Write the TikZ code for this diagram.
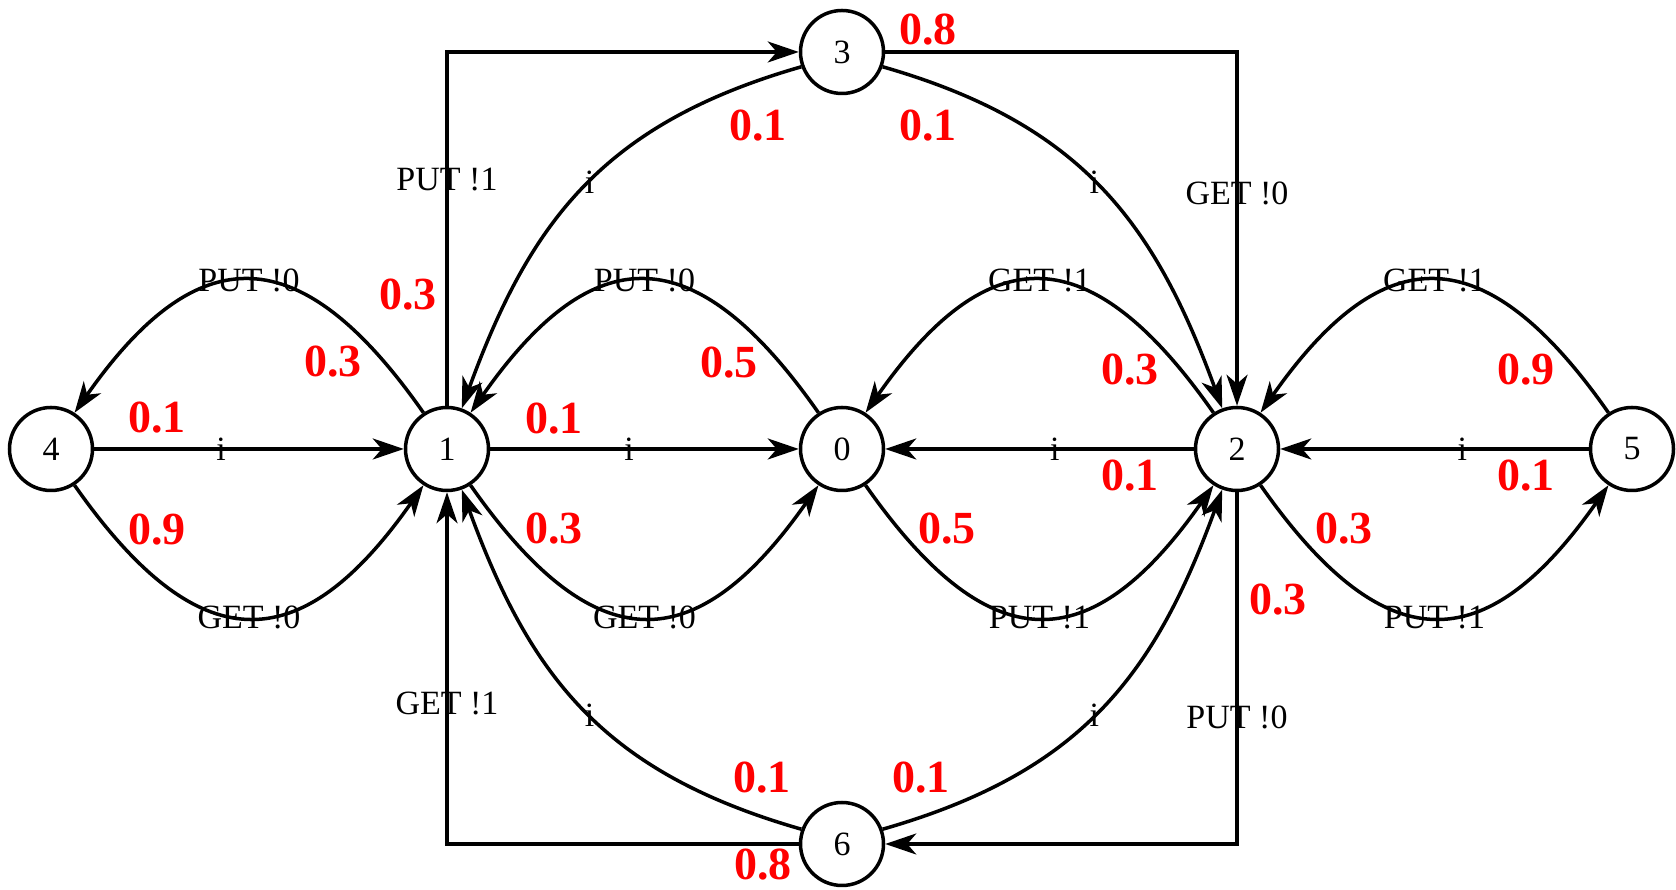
\documentclass[tikz,border=0pt]{standalone}
\usepackage{fontspec}
\setmainfont{Liberation Serif}
\usetikzlibrary{arrows.meta}
\begin{document}
\begin{tikzpicture}[x=1pt,y=1pt,
  st/.style={circle,draw,line width=3.5pt,minimum size=83pt,inner sep=0pt,font=\fontsize{34}{40}\selectfont},
  conn/.style={line width=3.5pt,-{Stealth[length=31pt,width=21pt,inset=9pt]}},
  lab/.style={font=\fontsize{34}{40}\selectfont,inner sep=0pt},
  prob/.style={font=\fontsize{46}{52}\selectfont\bfseries,text=red,inner sep=0pt}]
\useasboundingbox (0,0) rectangle (1676,890);
% states
\node[st] (n4) at (51,441) {4};
\node[st] (n1) at (447,441) {1};
\node[st] (n0) at (842,441) {0};
\node[st] (n2) at (1237,441) {2};
\node[st] (n5) at (1632,441) {5};
\node[st] (n3) at (842,838) {3};
\node[st] (n6) at (842,46) {6};
% straight edges
\draw[conn] (n4) -- (n1) node[lab,pos=0.41]{i};
\draw[conn] (n1) -- (n0) node[lab,pos=0.45]{i};
\draw[conn] (n2) -- (n0) node[lab,pos=0.45]{i};
\draw[conn] (n5) -- (n2) node[lab,pos=0.41]{i};
% lobes
\draw[conn] (n1.123) .. controls +(125:215) and +(55:215) .. (n4.57) node[lab,midway]{PUT !0};
\draw[conn] (n4.-57) .. controls +(-55:215) and +(-125:215) .. (n1.-123) node[lab,midway]{GET !0};
\draw[conn] (n0.123) .. controls +(125:215) and +(55:215) .. (n1.57) node[lab,midway]{PUT !0};
\draw[conn] (n1.-57) .. controls +(-55:215) and +(-125:215) .. (n0.-123) node[lab,midway]{GET !0};
\draw[conn] (n2.123) .. controls +(125:215) and +(55:215) .. (n0.57) node[lab,midway]{GET !1};
\draw[conn] (n0.-57) .. controls +(-55:215) and +(-125:215) .. (n2.-123) node[lab,midway]{PUT !1};
\draw[conn] (n5.123) .. controls +(125:215) and +(55:215) .. (n2.57) node[lab,midway]{GET !1};
\draw[conn] (n2.-57) .. controls +(-55:215) and +(-125:215) .. (n5.-123) node[lab,midway]{PUT !1};
% big curves
\draw[conn] (n3.200) .. controls +(196:205) and +(70:200) .. (n1.70) node[lab,pos=0.48]{i};
\draw[conn] (n3.-20) .. controls +(-16:205) and +(110:200) .. (n2.110) node[lab,pos=0.48]{i};
\draw[conn] (n6.160) .. controls +(164:205) and +(-70:200) .. (n1.-70) node[lab,pos=0.48]{i};
\draw[conn] (n6.20) .. controls +(16:205) and +(-110:200) .. (n2.-110) node[lab,pos=0.48]{i};
% orthogonal edges
\draw[conn] (n1) |- (n3) node[lab,pos=0.32]{PUT !1};
\draw[conn] (n3) -| (n2) node[lab,pos=0.70]{GET !0};
\draw[conn] (n2) |- (n6) node[lab,pos=0.32]{PUT !0};
\draw[conn] (n6) -| (n1) node[lab,pos=0.70]{GET !1};
% probabilities
\node[prob] (p1) at (157,472) {0.1};
\node[prob] (p2) at (157,360) {0.9};
\node[prob] (p3) at (333,528) {0.3};
\node[prob] (p4) at (408,595) {0.3};
\node[prob] (p5) at (554,471) {0.1};
\node[prob] (p6) at (554,361) {0.3};
\node[prob] (p7) at (729,527) {0.5};
\node[prob] (p8) at (947,361) {0.5};
\node[prob] (p9) at (1130,520) {0.3};
\node[prob] (p10) at (1130,414) {0.1};
\node[prob] (p11) at (1526,520) {0.9};
\node[prob] (p12) at (1526,414) {0.1};
\node[prob] (p13) at (1344,361) {0.3};
\node[prob] (p14) at (1278,290) {0.3};
\node[prob] (p15) at (928,860) {0.8};
\node[prob] (p16) at (758,764) {0.1};
\node[prob] (p17) at (928,764) {0.1};
\node[prob] (p18) at (762,112) {0.1};
\node[prob] (p19) at (921,112) {0.1};
\node[prob] (p20) at (763,25) {0.8};
\end{tikzpicture}
\end{document}
